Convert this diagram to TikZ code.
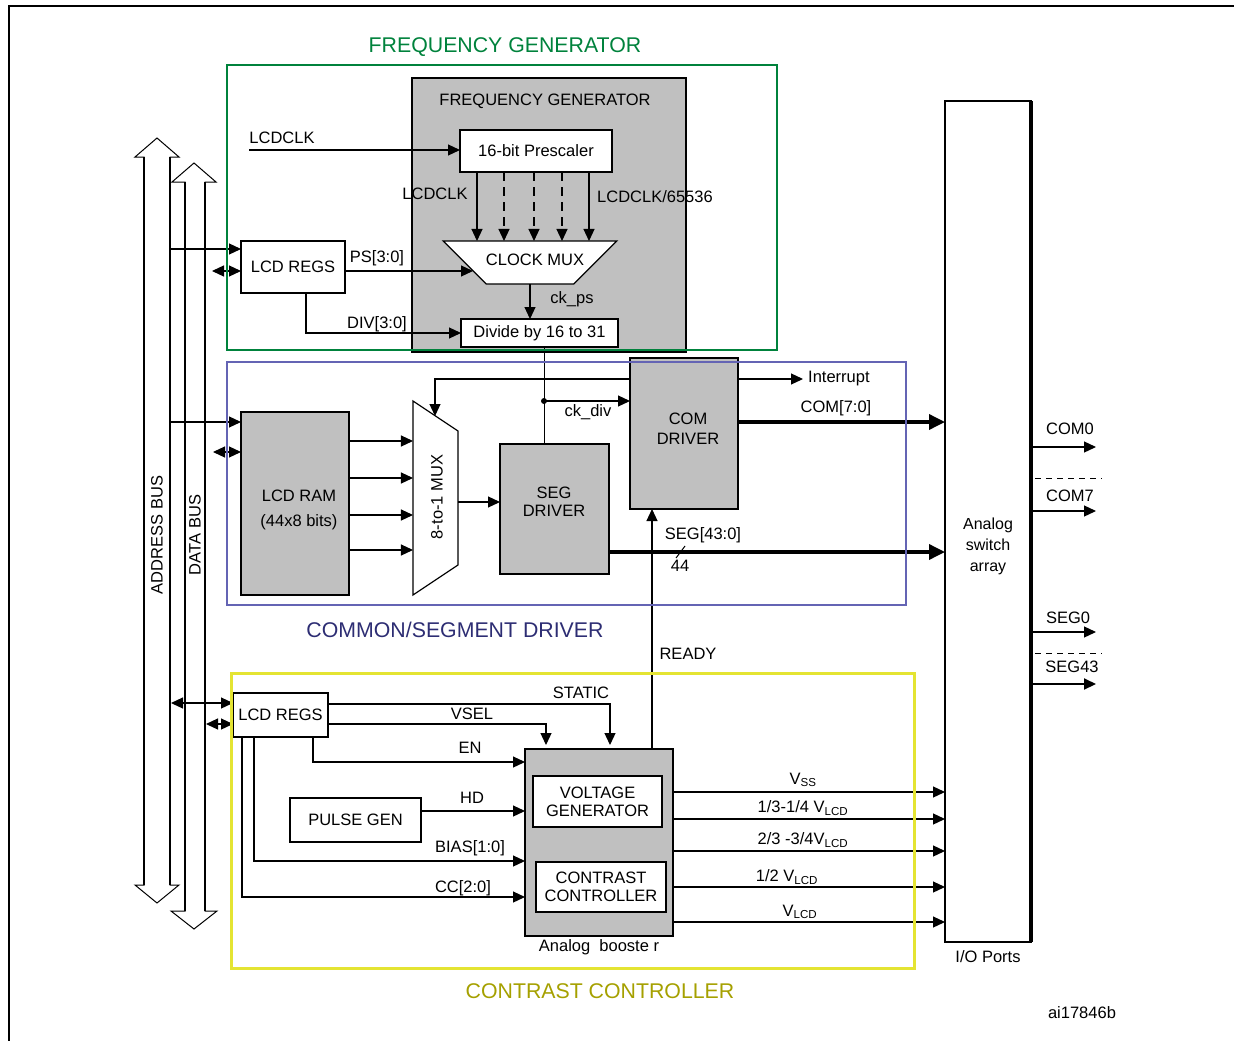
\documentclass[tikz,border=0pt]{standalone}
\usepackage{fontspec}
\setmainfont{Liberation Sans}
\usepackage{tikz}
\usetikzlibrary{positioning}
\usetikzlibrary{shapes.geometric, arrows.meta, calc}

\definecolor{fggreen}{RGB}{0,130,60}
\definecolor{segblue}{RGB}{100,100,180}
\definecolor{segnavy}{RGB}{45,45,115}
\definecolor{ccyellow}{RGB}{228,228,50}
\definecolor{ccolive}{RGB}{165,160,0}
\definecolor{boxgray}{RGB}{192,192,192}

\tikzstyle{arrow} = [line width=1.2pt,-{Triangle[length=12pt,width=11pt]}]
\tikzstyle{dblarrow} = [line width=1.2pt,{Triangle[length=12pt,width=11pt]}-{Triangle[length=12pt,width=11pt]}]
\tikzstyle{busarrow} = [line width=3.5pt,-{Triangle[length=16pt,width=15pt]}]
\tikzstyle{clkdash} = [dash pattern=on 9pt off 6pt]
\tikzstyle{graybox} = [draw,fill=boxgray,line width=1.2pt,inner sep=0pt,outer sep=0pt,align=center]
\tikzstyle{whitebox} = [draw,fill=white,line width=1.2pt,inner sep=0pt,outer sep=0pt,align=center]
\tikzstyle{muxshape} = [trapezium,trapezium stretches=true,shape border rotate=180]
\tikzstyle{busshape} = [draw,fill=white,line width=1pt]
\tikzstyle{regiontitle} = [font=\fontsize{21.3}{24}\selectfont]

\begin{document}
\begin{tikzpicture}[x=1pt,y=-1pt,every node/.style={font=\fontsize{16.5}{18}\selectfont,inner sep=1pt}]
	\useasboundingbox (0,0) rectangle (1234,1041);
	\draw[line width=2.5pt] (1234,6) -- (9,6) -- (9,1041);

	%Buses
	\draw[busshape] (144,885) -- (144,157) -- (135,157) -- (157,138) -- (179,157) -- (170,157) -- (170,885) -- (179,885) -- (157,903) -- (135,885) -- cycle;
	\draw[busshape] (185,911) -- (185,182) -- (172,182) -- (194,163) -- (216,182) -- (205,182) -- (205,911) -- (217,911) -- (194,929) -- (171,911) -- cycle;
	\draw[line width=2.5pt] (144,157) -- (144,885) (170,157) -- (170,885) (185,182) -- (185,911) (205,182) -- (205,911);
	\node[rotate=90] (abuslabel) at (157,535) {ADDRESS BUS};
	\node[rotate=90] (dbuslabel) at (195,535) {DATA BUS};

	%Nodes: frequency generator
	\node[graybox,line width=2.2pt,minimum width=274pt,minimum height=274pt] (fggray) at (549,215) {};
	\node at (545,101) (fglabel) {FREQUENCY GENERATOR};
	\node[whitebox,minimum width=152pt,minimum height=42pt] (prescaler) at (536,151) {16-bit Prescaler};
	\node[whitebox,muxshape,trapezium angle=45,inner xsep=43.5pt,inner ysep=21.5pt,minimum width=174pt,minimum height=43pt] (clkmux) at (530,262.5) {};
	\node at (535,260) (clkmuxlabel) {CLOCK MUX};
	\node[whitebox,minimum width=157pt,minimum height=28pt] (divide) at (539.5,333) {Divide by 16 to 31};
	\node[whitebox,minimum width=104pt,minimum height=52pt] (fgregs) at (293,267) {LCD REGS};
	\coordinate (clkin) at (249,150);
	\coordinate (abus1) at (170,249);
	\coordinate (dbus1) at (212,271);

	%Lines: frequency generator
	\draw[arrow] (clkin) -- (prescaler.west |- clkin);
	\foreach \x in {477,589}
		\draw[arrow] (prescaler.south -| \x,0) -- (clkmux.north -| \x,0);
	\foreach \x in {504,534,562}
		\draw[arrow,clkdash] (prescaler.south -| \x,0) -- (clkmux.north -| \x,0);
	\draw[arrow] (abus1) -- (fgregs.west |- abus1);
	\draw[dblarrow] (dbus1) -- (fgregs.west |- dbus1);
	\draw[arrow] (fgregs.east |- dbus1) -- ($(clkmux.center)+(-57,8.5)$);
	\draw[arrow] (fgregs.south -| 306,0) |- (divide.west);
	\draw[arrow] (clkmux.south) -- (divide.north -| clkmux.south);

	\node at (282,138) (clkinlabel) {LCDCLK};
	\node at (435,194) (fastlabel) {LCDCLK};
	\node at (655,197) (slowlabel) {LCDCLK/65536};
	\node at (377,258) (pslabel) {PS[3:0]};
	\node at (377,324) (divlabel) {DIV[3:0]};
	\node at (572,299) (ckpslabel) {ck\_ps};

	%Nodes: common/segment driver
	\node[graybox,minimum width=108pt,minimum height=183pt] (lcdram) at (295,503.5) {};
	\node[align=center] at (299,510) (ramlabel) {LCD RAM\\[7pt](44x8 bits)};
	\node[whitebox,muxshape,trapezium angle=56.3,rotate=90,inner xsep=67pt,inner ysep=22.5pt,minimum width=194pt,minimum height=45pt] (mux8) at (435.5,498) {};
	\node[rotate=90] at (437,497) (mux8label) {8-to-1 MUX};
	\node[graybox,minimum width=109pt,minimum height=130pt] (segdrv) at (554.5,509) {};
	\node[align=center] at (554,502) (seglabel) {SEG\\DRIVER};
	\node[graybox,line width=2.5pt,minimum width=108pt,minimum height=151pt] (comdrv) at (684,433.5) {};
	\node[align=center] at (688,429) (comlabel) {COM\\[2pt]DRIVER};
	\node[whitebox,line width=2pt,minimum width=86pt,minimum height=841pt] (switcharray) at (988,521.5) {};
	\draw[line width=4pt] (switcharray.north east) -- (switcharray.south east);
	\node[align=center,font=\fontsize{16}{21}\selectfont] (switchlabel) at (988,546) {Analog\\switch\\array};
	\node at (988,957) (ioports) {I/O Ports};
	\coordinate (abus2) at (170,422);
	\coordinate (dbus2) at (213,452);
	\coordinate (muxsel) at (435,416);
	\coordinate (ckdiv) at (544,401);
	\coordinate (intr) at (803,379);

	%Lines: common/segment driver
	\draw[arrow] (abus2) -- (lcdram.west |- abus2);
	\draw[dblarrow] (dbus2) -- (lcdram.west |- dbus2);
	\foreach \y in {441,478,515,550}
		\draw[arrow] (lcdram.east |- 0,\y) -- (mux8.north |- 0,\y);
	\draw[arrow] (comdrv.west |- 0,379) -| (muxsel);
	\draw[arrow] (mux8.south |- 0,502) -- (segdrv.west |- 0,502);
	\draw (divide.south -| ckdiv) -- (segdrv.north -| ckdiv);
	\fill (ckdiv) circle (3pt);
	\draw[arrow] (ckdiv) -- (comdrv.west |- ckdiv);
	\draw[arrow] (comdrv.east |- intr) -- (intr);
	\draw[busarrow] (comdrv.east |- 0,422) -- (switcharray.west |- 0,422);
	\draw[busarrow] (segdrv.east |- 0,552) -- (switcharray.west |- 0,552);
	\draw[line width=1pt] (685,546) -- (676,558);

	\node[right=4pt of intr] (intrlabel) {Interrupt};
	\node at (588,412) (ckdivlabel) {ck\_div};
	\node at (836,408) (combuslabel) {COM[7:0]};
	\node at (703,535) (segbuslabel) {SEG[43:0]};
	\node at (680,566) (seglines) {44};

	%Lines: I/O ports
	\foreach \y/\name in {447/COM0,511/COM7,632/SEG0}{
		\coordinate (out\name) at (1096,\y);
		\draw[arrow] (switcharray.east |- out\name) -- (out\name);
	}
	\coordinate (outSEG43) at (1096,684);
	\draw[arrow,line width=2pt] (switcharray.east |- outSEG43) -- (outSEG43);
	\draw[line width=1pt,dash pattern=on 6pt off 5pt] (1035,478) -- (1102,478);
	\draw[line width=1pt,dash pattern=on 6pt off 5pt] (1035,653) -- (1102,653);
	\node at (1070,429) (com0label) {COM0};
	\node at (1070,496) (com7label) {COM7};
	\node at (1068,618) (seg0label) {SEG0};
	\node at (1072,667) (seg43label) {SEG43};

	%Nodes: contrast controller
	\node[whitebox,minimum width=95pt,minimum height=44pt] (ccregs) at (280.5,715) {LCD REGS};
	\node[graybox,line width=2.5pt,minimum width=148pt,minimum height=187pt] (booster) at (599,842.5) {};
	\node[whitebox,line width=2.5pt,minimum width=129pt,minimum height=51pt] (voltgen) at (597.5,801.5) {VOLTAGE\\GENERATOR};
	\node[whitebox,line width=2.5pt,minimum width=130pt,minimum height=50pt] (contrast) at (601,887) {CONTRAST\\CONTROLLER};
	\node[below=2pt of booster] (boostlabel) {Analog~ booste r};
	\node[whitebox,minimum width=131pt,minimum height=44pt] (pulsegen) at (355.5,820) {PULSE GEN};
	\coordinate (abus3) at (171,703);
	\coordinate (dbus3) at (206,724);
	\coordinate (static) at (610,745);
	\coordinate (vsel) at (546,745);

	%Lines: contrast controller
	\draw[dblarrow] (abus3) -- (ccregs.west |- abus3);
	\draw[dblarrow] (dbus3) -- (ccregs.west |- dbus3);
	\draw[arrow] (ccregs.east |- 0,704) -| (static);
	\draw[arrow] (ccregs.east |- 0,724) -| (vsel);
	\draw[arrow] (ccregs.south -| 313,0) |- (booster.west |- 0,762);
	\draw[arrow] (pulsegen.east |- 0,811) -- (booster.west |- 0,811);
	\draw[arrow] (ccregs.south -| 254,0) |- (booster.west |- 0,861);
	\draw[arrow] (ccregs.south -| 242,0) |- (booster.west |- 0,897);
	\foreach \y in {792,819,851,887,922}
		\draw[arrow] (booster.east |- 0,\y) -- (switcharray.west |- 0,\y);
	\draw[arrow] (booster.north -| 652,0) -- (comdrv.south -| 652,0);

	\node at (581,693) (staticlabel) {STATIC};
	\node at (472,714) (vsellabel) {VSEL};
	\node at (470,748) (enlabel) {EN};
	\node at (472,798) (hdlabel) {HD};
	\node at (470,848) (biaslabel) {BIAS[1:0]};
	\node at (463,888) (cclabel) {CC[2:0]};
	\node at (688,654) (readylabel) {READY};
	\node at (803,780) (vsslabel) {V\textsubscript{SS}};
	\node at (803,808) (v13label) {1/3-1/4 V\textsubscript{LCD}};
	\node at (803,840) (v23label) {2/3 -3/4V\textsubscript{LCD}};
	\node at (787,877) (v12label) {1/2 V\textsubscript{LCD}};
	\node at (800,912) (vlcdlabel) {V\textsubscript{LCD}};

	%Regions
	\draw[draw=fggreen,line width=2.5pt] (227,65) rectangle (777,350);
	\draw[draw=segblue,line width=2.5pt] (227,362) rectangle (906,605);
	\draw[draw=ccyellow,line width=3pt] (231,673) rectangle (914,968);
	\node[regiontitle,text=fggreen] (fgtitle) at (505,47) {FREQUENCY GENERATOR};
	\node[regiontitle,text=segnavy] (segtitle) at (455,630) {COMMON/SEGMENT DRIVER};
	\node[regiontitle,text=ccolive] (cctitle) at (600,991) {CONTRAST CONTROLLER};
	\node at (1082,1013) (figid) {ai17846b};
\end{tikzpicture}
\end{document}
